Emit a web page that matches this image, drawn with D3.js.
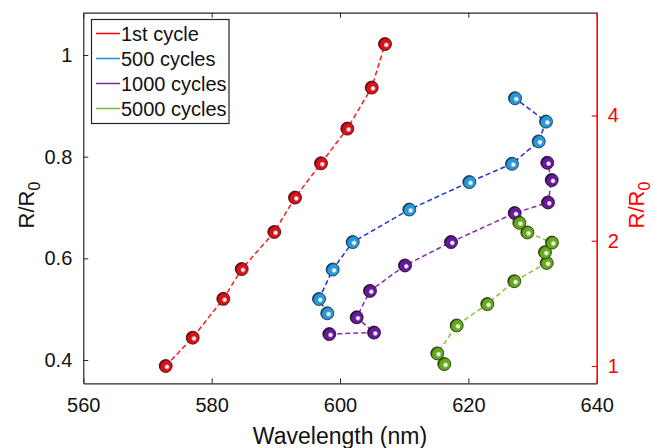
<!DOCTYPE html>
<html>
<head>
<meta charset="utf-8">
<script src="https://cdn.jsdelivr.net/npm/d3@7"></script>
<style>
  body { margin: 0; background: #fff; }
  text { font-family: Arial, "Liberation Sans", sans-serif; }
</style>
</head>
<body>
<svg id="chart" width="654" height="448"></svg>
<script>
// Resonance wavelength vs. normalised resistance for several cycle counts
const seriesNames = ["1st cycle", "500 cycles", "1000 cycles", "5000 cycles"];

// 1st cycle (plotted against the right, logarithmic R/R0 axis)
const wl1st   = [572.84, 577.05, 581.82, 584.68, 589.76, 592.99, 597.04, 601.14, 604.94, 607.01];
const rr1st   = [1.00, 1.17, 1.45, 1.71, 2.10, 2.54, 3.07, 3.72, 4.67, 5.94];

// 500 cycles (left axis)
const wl500   = [598.02, 596.73, 598.86, 601.98, 610.80, 620.15, 626.80, 630.96, 632.10, 627.27];
const rr500   = [0.492, 0.520, 0.578, 0.632, 0.696, 0.750, 0.786, 0.830, 0.869, 0.915];

// 1000 cycles (left axis)
const wl1000  = [598.33, 605.30, 602.60, 604.67, 610.13, 617.30, 627.22, 632.41, 632.99, 632.30];
const rr1000  = [0.451, 0.454, 0.484, 0.536, 0.586, 0.632, 0.689, 0.710, 0.754, 0.788];

// 5000 cycles (left axis)
const wl5000  = [616.25, 615.16, 618.18, 622.95, 627.16, 632.21, 631.94, 633.03, 629.19, 627.94];
const rr5000  = [0.392, 0.413, 0.468, 0.510, 0.555, 0.591, 0.612, 0.631, 0.651, 0.670];

const xTickValues = [560, 580, 600, 620, 640];
const xTickLabels = ["560", "580", "600", "620", "640"];
const leftTickValues = [0.4, 0.6, 0.8, 1];
const leftTickLabels = ["0.4", "0.6", "0.8", "1"];
const rightTickValues = [1, 2, 4];
const rightTickLabels = ["1", "2", "4"];

const svg = d3.select("#chart");
const plot = { left: 83.3, right: 596.7, top: 12.7, bottom: 383.3 };

const x = d3.scaleLinear().domain([560, 640]).range([plot.left, plot.right]);
const yLeft = d3.scaleLinear().domain([0.3542, 1.0832]).range([plot.bottom, plot.top]);
const yRight = d3.scaleLog().base(2).domain([0.9087, 7.066]).range([plot.bottom, plot.top]);

const styles = [
  { line: "#ff1a1a", ball: "#d8121a", dark: "#3a0003", legend: "#ff0000" },
  { line: "#1a2ee6", ball: "#2a98d6", dark: "#06223f", legend: "#1e8fdc" },
  { line: "#8a2aa8", ball: "#661a98", dark: "#14021f", legend: "#7b2aa4" },
  { line: "#88c830", ball: "#68a81e", dark: "#142704", legend: "#72c02c" }
];

const seriesData = [
  { wl: wl1st,  rr: rr1st,  y: yRight },
  { wl: wl500,  rr: rr500,  y: yLeft },
  { wl: wl1000, rr: rr1000, y: yLeft },
  { wl: wl5000, rr: rr5000, y: yLeft }
];

// Shaded sphere gradients
const defs = svg.append("defs");
styles.forEach((s, i) => {
  const g = defs.append("radialGradient")
    .attr("id", "ball" + i)
    .attr("cx", "0.6").attr("cy", "0.58").attr("r", "0.62")
    .attr("fx", "0.6").attr("fy", "0.56");
  g.append("stop").attr("offset", "0").attr("stop-color", "#ffffff");
  g.append("stop").attr("offset", "0.14").attr("stop-color", "#ffffff").attr("stop-opacity", 0.95);
  g.append("stop").attr("offset", "0.36").attr("stop-color", s.ball);
  g.append("stop").attr("offset", "0.72").attr("stop-color", s.ball);
  g.append("stop").attr("offset", "1").attr("stop-color", s.dark);
});

// Axes frame
const axisColor = "#262626";
const tickLen = 5;

// bottom axis
const xAxis = d3.axisBottom(x).tickValues(xTickValues)
  .tickFormat((d, i) => xTickLabels[i]).tickSizeInner(-tickLen).tickSizeOuter(0).tickPadding(15);
const gx = svg.append("g").attr("transform", `translate(0,${plot.bottom})`).call(xAxis);
gx.select(".domain").attr("stroke", axisColor).attr("stroke-width", 1.2);
gx.selectAll(".tick line").attr("stroke", axisColor);
gx.selectAll(".tick text").attr("fill", "#111").attr("font-size", 20);

// top border with mirrored ticks
const xTop = d3.axisTop(x).tickValues(xTickValues).tickFormat("").tickSizeInner(-tickLen).tickSizeOuter(0);
const gxt = svg.append("g").attr("transform", `translate(0,${plot.top})`).call(xTop);
gxt.select(".domain").attr("stroke", axisColor).attr("stroke-width", 1.2);
gxt.selectAll(".tick line").attr("stroke", axisColor);

// left axis
const yAxisL = d3.axisLeft(yLeft).tickValues(leftTickValues)
  .tickFormat((d, i) => leftTickLabels[i]).tickSizeInner(-tickLen).tickSizeOuter(0).tickPadding(11);
const gyl = svg.append("g").attr("transform", `translate(${plot.left},0)`).call(yAxisL);
gyl.select(".domain").attr("stroke", axisColor).attr("stroke-width", 1.2);
gyl.selectAll(".tick line").attr("stroke", axisColor);
gyl.selectAll(".tick text").attr("fill", "#111").attr("font-size", 20);

// right axis (red, log scale)
const yAxisR = d3.axisRight(yRight).tickValues(rightTickValues)
  .tickFormat((d, i) => rightTickLabels[i]).tickSizeInner(-tickLen).tickSizeOuter(0).tickPadding(11);
const gyr = svg.append("g").attr("transform", `translate(${plot.right},0)`).call(yAxisR);
gyr.select(".domain").attr("stroke", "#ff0000").attr("stroke-width", 1.6);
gyr.selectAll(".tick line").attr("stroke", "#ff0000").attr("stroke-width", 1.2);
gyr.selectAll(".tick text").attr("fill", "#ff0000").attr("font-size", 20);

// Axis titles
svg.append("text")
  .attr("x", (plot.left + plot.right) / 2).attr("y", 444)
  .attr("text-anchor", "middle").attr("font-size", 23).attr("fill", "#111")
  .text("Wavelength (nm)");

function rrTitle(g, color) {
  const t = g.append("text").attr("text-anchor", "middle").attr("font-size", 22).attr("fill", color);
  t.append("tspan").text("R/R");
  t.append("tspan").attr("dy", 6).attr("font-size", 16).text("0");
  return t;
}
rrTitle(svg.append("g").attr("transform", "translate(34,205) rotate(-90)"), "#111");
rrTitle(svg.append("g").attr("transform", "translate(644,205) rotate(-90)"), "#ff0000");

// Series: dashed connecting lines and sphere markers
seriesData.forEach((s, i) => {
  const pts = s.wl.map((w, k) => [x(w), s.y(s.rr[k])]);
  svg.append("path")
    .attr("d", d3.line()(pts))
    .attr("fill", "none")
    .attr("stroke", styles[i].line)
    .attr("stroke-width", 1.5)
    .attr("stroke-dasharray", "5,3");
});
seriesData.forEach((s, i) => {
  const g = svg.append("g");
  s.wl.forEach((w, k) => {
    const cx = x(w), cy = s.y(s.rr[k]);
    g.append("circle").attr("cx", cx).attr("cy", cy).attr("r", 6.5)
      .attr("fill", `url(#ball${i})`)
      .attr("stroke", styles[i].dark).attr("stroke-width", 0.9).attr("stroke-opacity", 0.85);
  });
});

// Legend
const legend = svg.append("g");
legend.append("rect")
  .attr("x", 91.5).attr("y", 19.5).attr("width", 137.5).attr("height", 104)
  .attr("fill", "#fff").attr("stroke", axisColor).attr("stroke-width", 1.2);
seriesNames.forEach((name, i) => {
  const cy = 33.5 + i * 25;
  legend.append("line").attr("x1", 96).attr("x2", 120).attr("y1", cy).attr("y2", cy)
    .attr("stroke", styles[i].legend).attr("stroke-width", 1.5);
  legend.append("text").attr("x", 121).attr("y", cy).attr("dy", "0.35em")
    .attr("font-size", 20).attr("fill", "#111").text(name);
});
</script>
</body>
</html>
